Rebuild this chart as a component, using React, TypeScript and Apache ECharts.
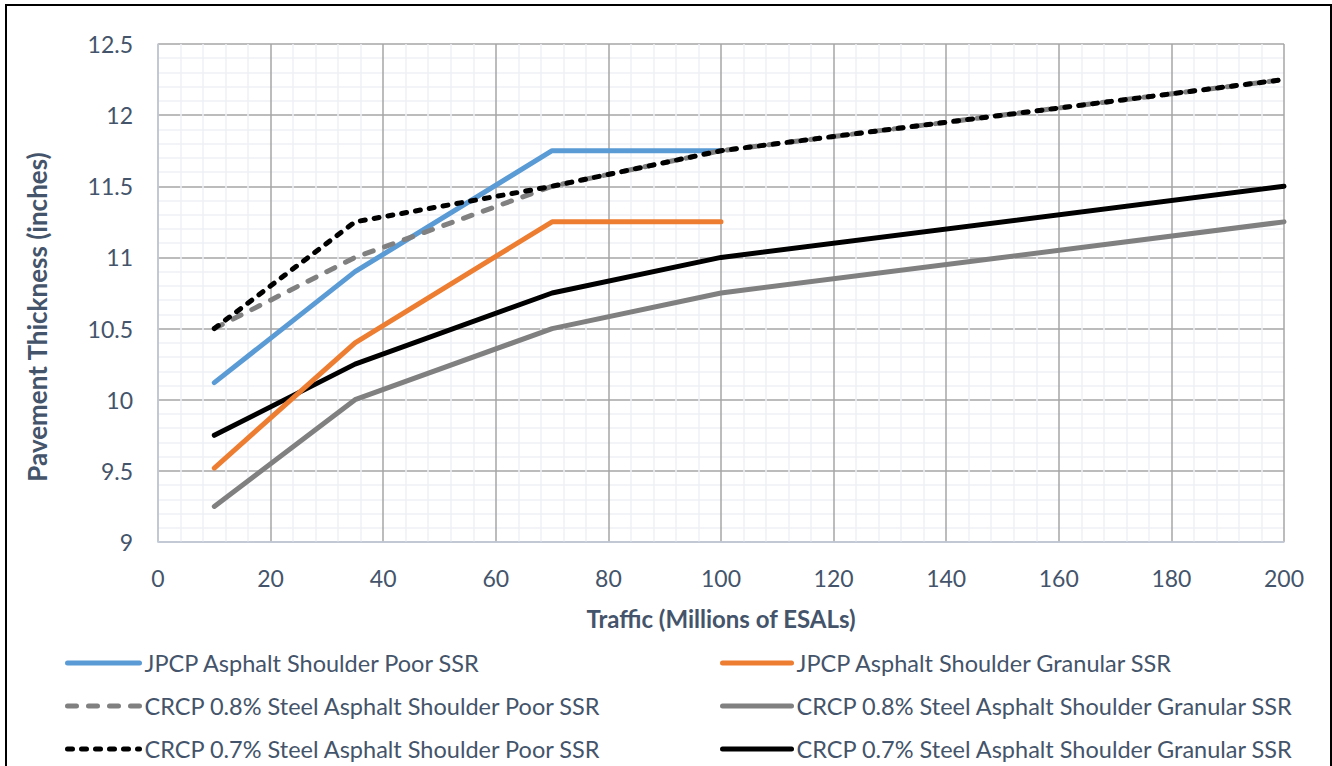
import React, { useEffect, useRef } from "react";
import * as echarts from "echarts";

const xValues = [10, 35, 70, 100, 200];
const jpcpPoor = [10.12, 10.9, 11.75, 11.75, null];
const jpcpGranular = [9.52, 10.4, 11.25, 11.25, null];
const crcp08Poor = [10.5, 11.0, 11.5, 11.75, 12.25];
const crcp08Granular = [9.25, 10.0, 10.5, 10.75, 11.25];
const crcp07Poor = [10.5, 11.25, 11.5, 11.75, 12.25];
const crcp07Granular = [9.75, 10.25, 10.75, 11.0, 11.5];

const seriesNames = [
  "JPCP Asphalt Shoulder Poor SSR",
  "JPCP Asphalt Shoulder Granular SSR",
  "CRCP 0.8% Steel Asphalt Shoulder Poor SSR",
  "CRCP 0.8% Steel Asphalt Shoulder Granular SSR",
  "CRCP 0.7% Steel Asphalt Shoulder Poor SSR",
  "CRCP 0.7% Steel Asphalt Shoulder Granular SSR",
];

const FONT = "Lato";
const TEXT = "#44546a";

function pairs(vals: (number | null)[]) {
  const out: [number, number][] = [];
  vals.forEach((v, i) => {
    if (v !== null) out.push([xValues[i], v]);
  });
  return out;
}

export default function App() {
  const ref = useRef<HTMLDivElement>(null);
  useEffect(() => {
    const chart = echarts.init(ref.current!, null, { renderer: "svg" });
    const W = 5;
    const mk = (name: string, data: (number | null)[], color: string, type: any, z: number) => ({
      name,
      type: "line",
      data: pairs(data),
      symbol: "none",
      showSymbol: false,
      z,
      lineStyle: { color, width: W, type, cap: "round", join: "round" },
      itemStyle: { color },
    });
    const legendBase = {
      orient: "vertical",
      top: 646,
      itemHeight: 24,
      itemGap: 19,
      textStyle: { color: TEXT, fontSize: 23.5, fontFamily: FONT },
      itemStyle: { opacity: 0, color: "transparent", borderWidth: 0 },
      lineStyle: { width: W, cap: "round" },
    };
    const option: any = {
      animation: false,
      backgroundColor: "#ffffff",
      textStyle: { fontFamily: FONT },
      grid: { left: 158, right: 48, top: 44, bottom: 258 },
      graphic: [
        {
          type: "text",
          x: 37,
          y: 317,
          rotation: Math.PI / 2,
          style: {
            text: "Pavement Thickness (inches)",
            fill: TEXT,
            font: `bold 26px ${FONT}`,
            align: "center",
            verticalAlign: "middle",
          },
        },
      ],
      xAxis: {
        type: "value",
        min: 0,
        max: 200,
        interval: 20,
        axisLine: { show: true, lineStyle: { color: "#c5cedd", width: 1.5 } },
        axisTick: { show: false },
        axisLabel: { color: TEXT, fontSize: 23, fontFamily: FONT, margin: 24 },
        splitLine: { show: true, lineStyle: { color: "#a6a6a6", width: 1.5 } },
        minorTick: { show: false, splitNumber: 5 },
        minorSplitLine: { show: true, lineStyle: { color: "#eef0f4", width: 1.5 } },
        name: "Traffic (Millions of ESALs)",
        nameLocation: "middle",
        nameGap: 64,
        nameTextStyle: { color: TEXT, fontSize: 24, fontWeight: "bold", fontFamily: FONT },
      },
      yAxis: {
        type: "value",
        min: 9,
        max: 12.5,
        interval: 0.5,
        axisLine: { show: true, lineStyle: { color: "#c5cedd", width: 1.5 } },
        axisTick: { show: false },
        axisLabel: { color: TEXT, fontSize: 23, fontFamily: FONT, margin: 25 },
        splitLine: { show: true, lineStyle: { color: "#a6a6a6", width: 1.5 } },
        minorTick: { show: false, splitNumber: 5 },
        minorSplitLine: { show: true, lineStyle: { color: "#eef0f4", width: 1.5 } },
      },
      legend: [
        {
          ...legendBase,
          left: 60,
          itemWidth: 72,
          data: [seriesNames[0], seriesNames[2], seriesNames[4]],
        },
        {
          ...legendBase,
          left: 715,
          itemWidth: 69,
          data: [seriesNames[1], seriesNames[3], seriesNames[5]],
        },
      ],
      series: [
        mk(seriesNames[3], crcp08Granular, "#808080", "solid", 2),
        mk(seriesNames[5], crcp07Granular, "#000000", "solid", 2),
        mk(seriesNames[1], jpcpGranular, "#ed7d31", "solid", 3),
        mk(seriesNames[0], jpcpPoor, "#5b9bd5", "solid", 3),
        mk(seriesNames[2], crcp08Poor, "#808080", [9, 12], 4),
        mk(seriesNames[4], crcp07Poor, "#000000", [5, 9], 5),
      ],
    };
    chart.setOption(option);
    return () => chart.dispose();
  }, []);
  return (
    <div style={{ position: "fixed", left: 0, top: 0, width: 1332, height: 766, background: "#fff", overflow: "hidden" }}>
      <div ref={ref} style={{ position: "absolute", left: 0, top: 0, width: 1332, height: 800 }} />
      <div
        style={{
          position: "absolute",
          left: 5,
          top: 4,
          width: 1323,
          height: 800,
          borderLeft: "2px solid #000",
          borderRight: "2px solid #000",
          borderTop: "2px solid #000",
          pointerEvents: "none",
        }}
      />
    </div>
  );
}
